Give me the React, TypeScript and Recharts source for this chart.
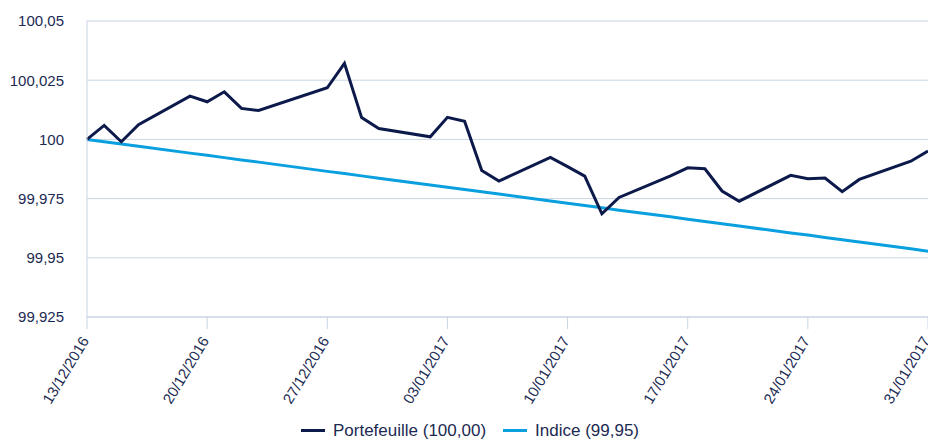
import { LineChart, Line, XAxis, YAxis, CartesianGrid, Legend } from 'recharts';

const dates = [
  '13/12/2016', '14/12/2016', '15/12/2016', '16/12/2016', '19/12/2016', '20/12/2016',
  '21/12/2016', '22/12/2016', '23/12/2016', '27/12/2016', '28/12/2016', '29/12/2016',
  '30/12/2016', '02/01/2017', '03/01/2017', '04/01/2017', '05/01/2017', '06/01/2017',
  '09/01/2017', '10/01/2017', '11/01/2017', '12/01/2017', '13/01/2017', '16/01/2017',
  '17/01/2017', '18/01/2017', '19/01/2017', '20/01/2017', '23/01/2017', '24/01/2017',
  '25/01/2017', '26/01/2017', '27/01/2017', '30/01/2017', '31/01/2017',
];

const portefeuille = [
  100.0, 100.0059, 99.999, 100.0062, 100.0183, 100.0159,
  100.0201, 100.0131, 100.0122, 100.0218, 100.0321, 100.0092,
  100.0046, 100.0011, 100.0093, 100.0077, 99.9869, 99.9824,
  99.9924, 99.9885, 99.9845, 99.9686, 99.9755, 99.9846,
  99.988, 99.9876, 99.9782, 99.9739, 99.9848, 99.9834,
  99.9837, 99.9779, 99.9831, 99.9908, 99.9951,
];

const indice = [
  100.0, 99.999, 99.9981, 99.9971, 99.9942, 99.9933,
  99.9923, 99.9913, 99.9904, 99.9865, 99.9856, 99.9846,
  99.9836, 99.9807, 99.9798, 99.9788, 99.9779, 99.9769,
  99.974, 99.973, 99.9721, 99.9711, 99.9701, 99.9673,
  99.9663, 99.9653, 99.9644, 99.9634, 99.9605, 99.9596,
  99.9586, 99.9576, 99.9567, 99.9538, 99.9528,
];

const xTickLabels = [
  '13/12/2016', '20/12/2016', '27/12/2016', '03/01/2017',
  '10/01/2017', '17/01/2017', '24/01/2017', '31/01/2017',
];

const yTicks = [99.925, 99.95, 99.975, 100, 100.025, 100.05];

const NAVY = '#0c1a4b';
const BLUE = '#0aa0e0';
const GRID = '#c9d4e3';
const TEXT = '#1c2a52';
const FONT = '"Liberation Sans", Arial, sans-serif';

const toDay = (s: string) => {
  const [d, m, y] = s.split('/').map(Number);
  return Date.UTC(y, m - 1, d) / 86400000;
};

const dayLabel: Record<number, string> = {};
xTickLabels.forEach((s) => (dayLabel[toDay(s)] = s));

const data = dates.map((d, i) => ({
  day: toDay(d),
  portefeuille: portefeuille[i],
  indice: indice[i],
}));

// rotated date labels, right end sits just under the tick
const DateTick = (props: any) => {
  const { x, y, payload } = props;
  const ax = x - 2;
  const ay = y + 7;
  return (
    <text
      x={ax}
      y={ay}
      dy="0.35em"
      textAnchor="end"
      transform={`rotate(-59, ${ax}, ${ay})`}
      fill={TEXT}
      fontSize={15}
      fontFamily={FONT}
    >
      {dayLabel[payload.value]}
    </text>
  );
};

const renderLegend = () => (
  <div
    style={{
      display: 'flex',
      justifyContent: 'center',
      alignItems: 'center',
      height: 24,
      paddingTop: 3,
      paddingLeft: 12,
      boxSizing: 'border-box',
      fontFamily: FONT,
      fontSize: 17,
      color: TEXT,
    }}
  >
    {[
      { name: 'Portefeuille (100,00)', color: NAVY },
      { name: 'Indice (99,95)', color: BLUE },
    ].map((item, i) => (
      <span key={item.name} style={{ display: 'flex', alignItems: 'center', marginLeft: i ? 17 : 0 }}>
        <span style={{ width: 24, height: 3, background: item.color, marginRight: 8 }} />
        {item.name}
      </span>
    ))}
  </div>
);

export default function App() {
  return (
    <div style={{ position: 'absolute', left: 0, top: 0, width: 928, height: 441, overflow: 'hidden', background: '#fff' }}>
      <LineChart width={940} height={441} data={data} margin={{ top: 21, right: 12, left: 0, bottom: 0 }}>
        <CartesianGrid vertical={false} stroke={GRID} />
        <XAxis
          type="number"
          dataKey="day"
          domain={[toDay(xTickLabels[0]), toDay(xTickLabels[xTickLabels.length - 1])]}
          ticks={xTickLabels.map(toDay)}
          interval={0}
          height={100}
          stroke={GRID}
          tickSize={12}
          tick={<DateTick />}
        />
        <YAxis
          type="number"
          domain={[99.925, 100.05]}
          ticks={yTicks}
          width={87}
          stroke={GRID}
          tickLine={false}
          tickSize={0}
          tickMargin={23}
          tick={{ fill: TEXT, fontSize: 15, fontFamily: FONT }}
          tickFormatter={(v: number) => String(v).replace('.', ',')}
        />
        <Legend verticalAlign="bottom" height={24} content={renderLegend} />
        <Line
          type="linear"
          dataKey="indice"
          stroke={BLUE}
          strokeWidth={3}
          dot={false}
          isAnimationActive={false}
        />
        <Line
          type="linear"
          dataKey="portefeuille"
          stroke={NAVY}
          strokeWidth={3}
          dot={false}
          isAnimationActive={false}
        />
      </LineChart>
    </div>
  );
}
